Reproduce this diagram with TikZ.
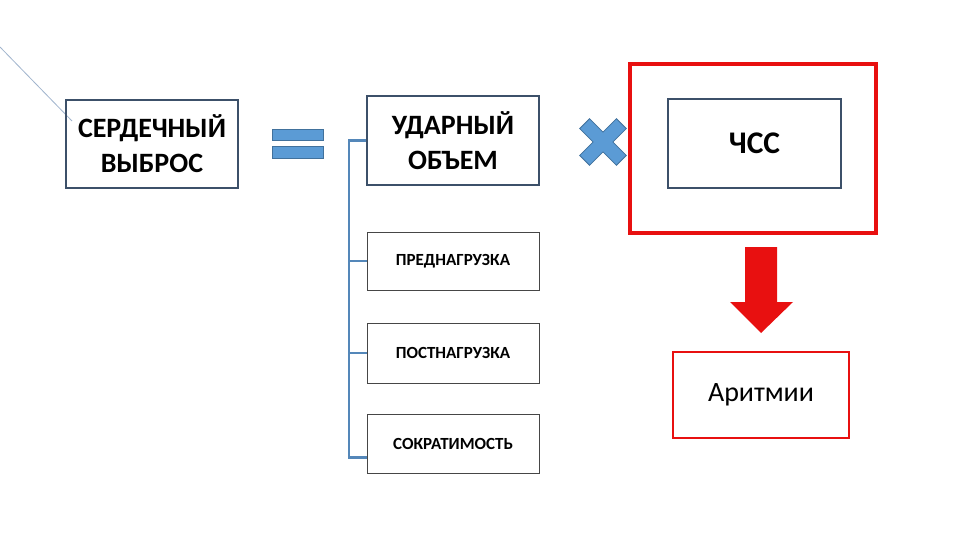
\documentclass[tikz,border=0pt]{standalone}
\usepackage{fontspec}
\setmainfont{Carlito}
\definecolor{boxline}{RGB}{60,80,105}
\definecolor{thinline}{RGB}{70,70,70}
\definecolor{officeblue}{RGB}{91,155,213}
\definecolor{officeblueline}{RGB}{65,113,156}
\definecolor{brcol}{RGB}{84,135,185}
\definecolor{diagcol}{RGB}{160,180,205}
\definecolor{redc}{RGB}{232,16,16}
\begin{document}
\begin{tikzpicture}[x=1pt,y=-1pt,
  mainbox/.style={draw=boxline,line width=1.8pt,inner sep=0pt,align=center,font=\bfseries\fontsize{28}{35}\selectfont},
  smallbox/.style={draw=thinline,line width=0.8pt,inner sep=0pt,minimum width=172pt,align=center,font=\bfseries\fontsize{17}{20}\selectfont},
  bracket/.style={draw=brcol,line width=2.4pt},
  redbox/.style={draw=redc,inner sep=0pt},
  shapefill/.style={fill=officeblue,draw=officeblueline,line width=0.8pt}]
\useasboundingbox (0,0) rectangle (960,540);
\fill[white] (0,0) rectangle (960,540);
% diagonal line
\coordinate (d0) at (0,47);
\coordinate (d1) at (72,121);
\draw[diagcol,line width=0.8pt] (d0) -- (d1);
% boxes
\node[mainbox,minimum width=172pt,minimum height=88pt] (co) at (152,144) {СЕРДЕЧНЫЙ\\ВЫБРОС};
\node[mainbox,minimum width=172pt,minimum height=89pt] (ud) at (453,140.5) {УДАРНЫЙ\\ОБЪЕМ};
\node[smallbox,minimum height=58pt] (pre) at (453,261) {\raisebox{-2pt}{ПРЕДНАГРУЗКА}};
\node[smallbox,minimum height=60pt] (post) at (453,353) {\raisebox{-1pt}{ПОСТНАГРУЗКА}};
\node[smallbox,minimum height=59pt] (sok) at (453,443.5) {\raisebox{-1pt}{СОКРАТИМОСТЬ}};
\node[redbox,line width=4pt,minimum width=246pt,minimum height=168pt] (red) at (753,148.5) {};
\node[mainbox,minimum width=173pt,minimum height=89pt,font=\bfseries\fontsize{31.5}{35}\selectfont] (chss) at (754.5,143.5) {ЧСС};
\node[redbox,line width=2.8pt,minimum width=176pt,minimum height=86pt,font=\fontsize{28}{32}\selectfont] (ar) at (761,395) {\raisebox{-4pt}{Аритмии}};
% bracket
\draw[bracket] (ud.west) -- ++(-17,0) coordinate (btop) |- ([yshift=16pt]sok.south west);
\draw[bracket] (pre.west) -- ++(-17,0);
\draw[bracket] (post.west) -- ++(-17,0);
% equals sign
\draw[shapefill] (272,129) rectangle (323,140);
\draw[shapefill] (272,146) rectangle (323,158);
% multiply sign
\begin{scope}[shift={(603,142)},rotate=45]
\draw[shapefill,line join=miter] (26,7) -- (7,7) -- (7,26) -- (-7,26) -- (-7,7) -- (-26,7) -- (-26,-7) -- (-7,-7) -- (-7,-26) -- (7,-26) -- (7,-7) -- (26,-7) -- cycle;
\end{scope}
% red arrow
\fill[redc] (745,247) -- (777,247) -- (777,302) -- (793,302) -- (761,333) -- (730,302) -- (745,302) -- cycle;
\end{tikzpicture}
\end{document}
